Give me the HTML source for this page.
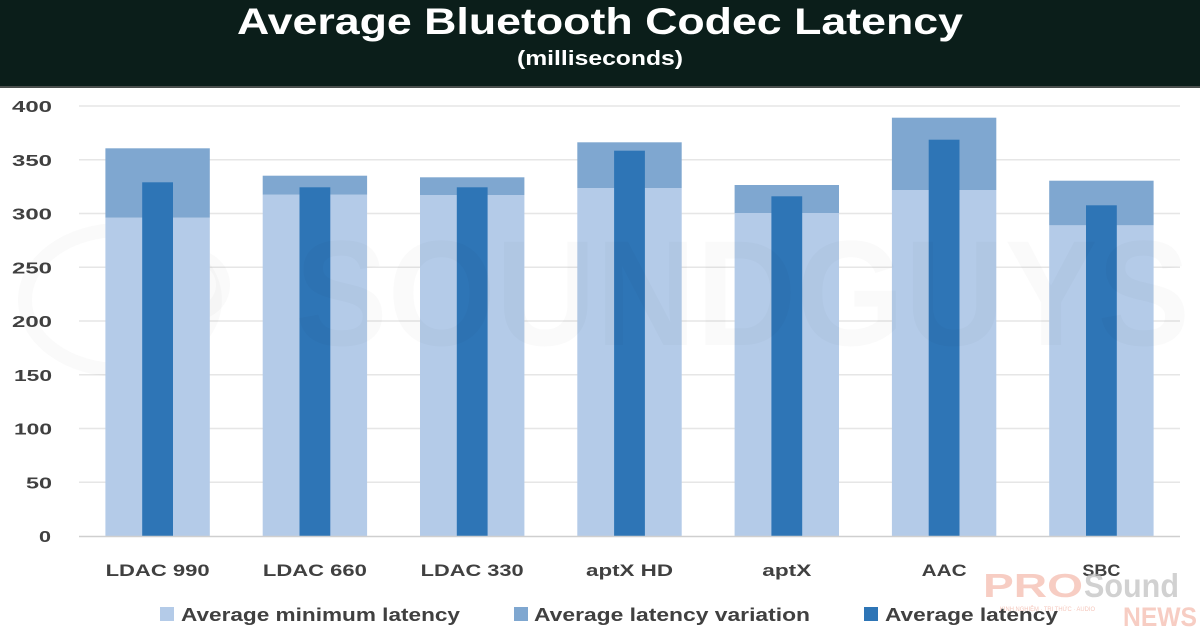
<!DOCTYPE html>
<html>
<head>
<meta charset="utf-8">
<style>
  html,body{margin:0;padding:0;background:#fff;}
  svg{display:block;}
  text{font-family:"Liberation Sans", "DejaVu Sans", sans-serif;}
</style>
</head>
<body>
<svg width="1200" height="630" viewBox="0 0 1200 630" xmlns="http://www.w3.org/2000/svg">
  <rect x="0" y="0" width="1200" height="630" fill="#ffffff"/>
  <!-- title band -->
  <rect x="0" y="0" width="1200" height="87" fill="#0b1e1a"/>
  <rect x="0" y="86" width="1200" height="2" fill="#4a4f4d"/>
  <text x="600" y="34" text-anchor="middle" font-size="37" font-weight="bold" fill="#ffffff" textLength="726" lengthAdjust="spacingAndGlyphs">Average Bluetooth Codec Latency</text>
  <text x="600" y="65" text-anchor="middle" font-size="20" font-weight="bold" fill="#ffffff" textLength="166" lengthAdjust="spacingAndGlyphs">(milliseconds)</text>

  <!-- gridlines -->
  <g stroke="#e6e6e6" stroke-width="1.5">
    <line x1="79" y1="106" x2="1180" y2="106"/>
    <line x1="79" y1="159.75" x2="1180" y2="159.75"/>
    <line x1="79" y1="213.5" x2="1180" y2="213.5"/>
    <line x1="79" y1="267.25" x2="1180" y2="267.25"/>
    <line x1="79" y1="321" x2="1180" y2="321"/>
    <line x1="79" y1="374.75" x2="1180" y2="374.75"/>
    <line x1="79" y1="428.5" x2="1180" y2="428.5"/>
    <line x1="79" y1="482.25" x2="1180" y2="482.25"/>
  </g>

  <!-- left faint logo watermark -->
  <g fill="none" stroke="#000" stroke-opacity="0.018" stroke-width="14">
    <ellipse cx="120" cy="300" rx="95" ry="70"/>
    <circle cx="195" cy="285" r="28"/>
  </g>

  <!-- y tick labels -->
  <g font-size="16" font-weight="bold" fill="#404040" text-anchor="end">
    <text x="52" y="112" textLength="40" lengthAdjust="spacingAndGlyphs">400</text>
    <text x="52" y="165.75" textLength="40" lengthAdjust="spacingAndGlyphs">350</text>
    <text x="52" y="219.5" textLength="40" lengthAdjust="spacingAndGlyphs">300</text>
    <text x="52" y="273.25" textLength="40" lengthAdjust="spacingAndGlyphs">250</text>
    <text x="52" y="327" textLength="40" lengthAdjust="spacingAndGlyphs">200</text>
    <text x="52" y="380.75" textLength="38" lengthAdjust="spacingAndGlyphs">150</text>
    <text x="52" y="434.5" textLength="38" lengthAdjust="spacingAndGlyphs">100</text>
    <text x="52" y="488.25" textLength="26" lengthAdjust="spacingAndGlyphs">50</text>
    <text x="51" y="542" textLength="12" lengthAdjust="spacingAndGlyphs">0</text>
  </g>

  <!-- bars -->
  <g>
    <rect x="105.4" y="217.7" width="104.4" height="318.3" fill="#b4cbe8"/>
    <rect x="105.4" y="148.3" width="104.4" height="69.4" fill="#7fa7d0"/>
    <rect x="142.2" y="182.3" width="30.8" height="353.7" fill="#2e75b6"/>

    <rect x="262.7" y="194.7" width="104.4" height="341.3" fill="#b4cbe8"/>
    <rect x="262.7" y="175.7" width="104.4" height="19" fill="#7fa7d0"/>
    <rect x="299.5" y="187.3" width="30.8" height="348.7" fill="#2e75b6"/>

    <rect x="420" y="195" width="104.4" height="341" fill="#b4cbe8"/>
    <rect x="420" y="177.3" width="104.4" height="17.7" fill="#7fa7d0"/>
    <rect x="456.8" y="187.3" width="30.8" height="348.7" fill="#2e75b6"/>

    <rect x="577.3" y="188" width="104.4" height="348" fill="#b4cbe8"/>
    <rect x="577.3" y="142.3" width="104.4" height="45.7" fill="#7fa7d0"/>
    <rect x="614.1" y="150.7" width="30.8" height="385.3" fill="#2e75b6"/>

    <rect x="734.6" y="213" width="104.4" height="323" fill="#b4cbe8"/>
    <rect x="734.6" y="185" width="104.4" height="28" fill="#7fa7d0"/>
    <rect x="771.4" y="196.3" width="30.8" height="339.7" fill="#2e75b6"/>

    <rect x="891.9" y="190" width="104.4" height="346" fill="#b4cbe8"/>
    <rect x="891.9" y="117.7" width="104.4" height="72.3" fill="#7fa7d0"/>
    <rect x="928.7" y="139.7" width="30.8" height="396.3" fill="#2e75b6"/>

    <rect x="1049.2" y="225.3" width="104.4" height="310.7" fill="#b4cbe8"/>
    <rect x="1049.2" y="180.7" width="104.4" height="44.6" fill="#7fa7d0"/>
    <rect x="1086" y="205.3" width="30.8" height="330.7" fill="#2e75b6"/>
  </g>

  <!-- zero axis -->
  <line x1="79" y1="536.5" x2="1180" y2="536.5" stroke="#cfcfcf" stroke-width="1.5"/>

  <!-- SOUNDGUYS watermark -->
  <text x="295" y="345" font-size="150" font-weight="bold" fill="#000" fill-opacity="0.018" textLength="895" lengthAdjust="spacingAndGlyphs">SOUNDGUYS</text>

  <!-- x labels -->
  <g font-size="17" font-weight="bold" fill="#404040" text-anchor="middle">
    <text x="157.6" y="576" textLength="104" lengthAdjust="spacingAndGlyphs">LDAC 990</text>
    <text x="314.9" y="576" textLength="104" lengthAdjust="spacingAndGlyphs">LDAC 660</text>
    <text x="472.2" y="576" textLength="103" lengthAdjust="spacingAndGlyphs">LDAC 330</text>
    <text x="629.5" y="576" textLength="87" lengthAdjust="spacingAndGlyphs">aptX HD</text>
    <text x="786.8" y="576" textLength="49" lengthAdjust="spacingAndGlyphs">aptX</text>
    <text x="944.1" y="576" textLength="45" lengthAdjust="spacingAndGlyphs">AAC</text>
    <text x="1101.4" y="576" textLength="38" lengthAdjust="spacingAndGlyphs">SBC</text>
  </g>

  <!-- PROSound NEWS watermark -->
  <g>
    <text x="983" y="597" font-size="33" font-weight="bold" fill="#f3b8aa" fill-opacity="0.7" textLength="100" lengthAdjust="spacingAndGlyphs">PRO</text>
    <text x="1084" y="597" font-size="33" font-weight="bold" fill="#bdbdbd" fill-opacity="0.7" textLength="95" lengthAdjust="spacingAndGlyphs">Sound</text>
    <text x="1123" y="626" font-size="27" font-weight="bold" fill="#f3b8aa" fill-opacity="0.7" textLength="74" lengthAdjust="spacingAndGlyphs">NEWS</text>
    <text x="1000" y="611" font-size="6" fill="#f3b8aa" fill-opacity="0.8" textLength="95" lengthAdjust="spacingAndGlyphs">KINH NGHIỆM · TRI THỨC · AUDIO</text>
  </g>

  <!-- legend -->
  <g font-size="18" font-weight="bold" fill="#404040">
    <rect x="160" y="607" width="14" height="14" fill="#b4cbe8"/>
    <text x="181" y="621" textLength="279" lengthAdjust="spacingAndGlyphs">Average minimum latency</text>
    <rect x="514" y="607" width="14" height="14" fill="#7fa7d0"/>
    <text x="534" y="621" textLength="276" lengthAdjust="spacingAndGlyphs">Average latency variation</text>
    <rect x="864" y="607" width="14" height="14" fill="#2e75b6"/>
    <text x="885" y="621" textLength="173" lengthAdjust="spacingAndGlyphs">Average latency</text>
  </g>
</svg>
</body>
</html>
